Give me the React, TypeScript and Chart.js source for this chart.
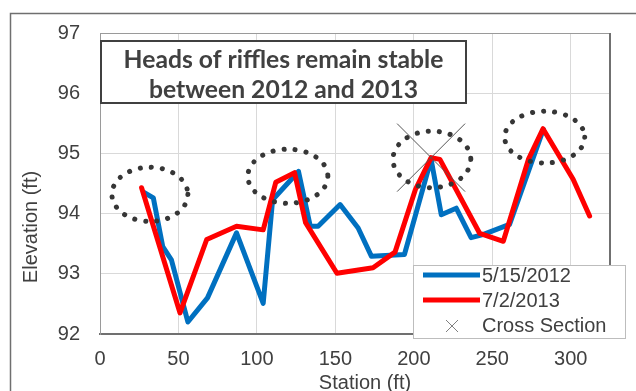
import React, { useEffect, useRef } from 'react';
import { Chart, registerables } from 'chart.js';

Chart.register(...registerables);

// ---- data ----
const blueStation = [28, 34, 40, 45.5, 56, 68.5, 87, 104, 110, 126.5, 134, 139, 153, 164.5, 173, 194, 211, 217.5, 227, 236.5, 244, 261, 282.5];
const blueElev = [94.35, 94.26, 93.45, 93.23, 92.2, 92.6, 93.68, 92.51, 94.23, 94.7, 93.79, 93.79, 94.15, 93.76, 93.29, 93.32, 94.9, 93.98, 94.09, 93.6, 93.65, 93.82, 95.4];
const redStation = [26.5, 51, 68, 87, 104, 112, 124, 131, 151, 174, 188, 201, 211, 216.6, 242, 257, 273, 282.3, 301.5, 312];
const redElev = [94.43, 92.35, 93.57, 93.79, 93.73, 94.52, 94.68, 93.85, 93.01, 93.1, 93.36, 94.4, 94.93, 94.9, 93.67, 93.54, 94.9, 95.41, 94.57, 93.96];
const crossStation = [211];
const crossElev = [94.93];
const seriesLabels = ['5/15/2012', '7/2/2013', 'Cross Section'];
const xTickValues = [0, 50, 100, 150, 200, 250, 300];
const yTickValues = [92, 93, 94, 95, 96, 97];
const ellipseStation = [31.8, 119.7, 211.5, 283.4];
const ellipseElev = [94.32, 94.62, 94.9, 95.27];
const ellipseRx = [24.2, 25.5, 24.8, 25.5];
const ellipseRy = [0.45, 0.45, 0.47, 0.43];
const titleLines = ['Heads of riffles remain stable', 'between 2012 and 2013'];
const xAxisTitle = 'Station (ft)';
const yAxisTitle = 'Elevation (ft)';

const BLUE = '#0070c0';
const RED = '#ff0000';
const TEXT = '#404040';
const FONT = '"Liberation Sans", Arial, sans-serif';

const toPts = (xs: number[], ys: number[]) => xs.map((x, i) => ({ x, y: ys[i] }));

const decorPlugin = {
  id: 'decor',
  beforeDraw(chart: any) {
    const { ctx, width, height } = chart;
    ctx.save();
    ctx.fillStyle = '#ffffff';
    ctx.fillRect(0, 0, width, height);
    ctx.strokeStyle = '#6f6f6f';
    ctx.lineWidth = 1.5;
    ctx.beginPath();
    ctx.moveTo(10.5, height + 2);
    ctx.lineTo(10.5, 13.5);
    ctx.lineTo(width + 2, 13.5);
    ctx.stroke();
    ctx.restore();
  },
  afterDatasetsDraw(chart: any) {
    const { ctx, scales } = chart;
    const xs = scales.x;
    const ys = scales.y;
    ctx.save();
    // cross-section markers (large thin X)
    ctx.strokeStyle = '#555555';
    ctx.lineWidth = 1;
    for (let i = 0; i < crossStation.length; i++) {
      const cx = xs.getPixelForValue(crossStation[i]);
      const cy = ys.getPixelForValue(crossElev[i]);
      const h = 34;
      ctx.beginPath();
      ctx.moveTo(cx - h, cy - h);
      ctx.lineTo(cx + h, cy + h);
      ctx.moveTo(cx + h, cy - h);
      ctx.lineTo(cx - h, cy + h);
      ctx.stroke();
    }
    // dotted ellipses
    ctx.strokeStyle = '#363636';
    ctx.lineWidth = 5;
    ctx.lineCap = 'round';
    ctx.setLineDash([0.1, 11]);
    for (let i = 0; i < ellipseStation.length; i++) {
      const cx = xs.getPixelForValue(ellipseStation[i]);
      const cy = ys.getPixelForValue(ellipseElev[i]);
      const rx = xs.getPixelForValue(ellipseStation[i] + ellipseRx[i]) - cx;
      const ry = cy - ys.getPixelForValue(ellipseElev[i] + ellipseRy[i]);
      ctx.beginPath();
      ctx.ellipse(cx, cy, rx, ry, 0, 0, Math.PI * 2);
      ctx.stroke();
    }
    ctx.restore();
  },
  afterDraw(chart: any) {
    const { ctx, chartArea } = chart;
    ctx.save();
    // plot top/right border
    ctx.strokeStyle = '#9a9a9a';
    ctx.lineWidth = 1;
    ctx.beginPath();
    ctx.moveTo(chartArea.left, chartArea.top + 0.5);
    ctx.lineTo(chartArea.right, chartArea.top + 0.5);
    ctx.stroke();
    ctx.strokeStyle = '#707070';
    ctx.lineWidth = 2;
    ctx.beginPath();
    ctx.moveTo(chartArea.right, chartArea.top);
    ctx.lineTo(chartArea.right, chartArea.bottom);
    ctx.stroke();

    // title box
    ctx.fillStyle = '#ffffff';
    ctx.fillRect(101, 41, 365, 62);
    ctx.strokeStyle = '#404040';
    ctx.lineWidth = 2;
    ctx.strokeRect(101, 41, 365, 62);
    ctx.fillStyle = TEXT;
    ctx.textAlign = 'center';
    ctx.textBaseline = 'middle';
    let fs = 20;
    ctx.font = `bold ${fs}px Lato, "Open Sans", sans-serif`;
    const w = ctx.measureText(titleLines[0]).width;
    fs = fs * 320 / w;
    ctx.font = `bold ${fs.toFixed(2)}px Lato, "Open Sans", sans-serif`;
    ctx.fillText(titleLines[0], 283.5, 60);
    ctx.fillText(titleLines[1], 283.5, 90);

    // axis titles
    ctx.font = `20px ${FONT}`;
    ctx.fillText(xAxisTitle, 365, 383);
    ctx.save();
    ctx.translate(31, 227);
    ctx.rotate(-Math.PI / 2);
    ctx.fillText(yAxisTitle, 0, 0);
    ctx.restore();

    // legend
    ctx.fillStyle = '#ffffff';
    ctx.fillRect(413, 265, 212, 73);
    ctx.strokeStyle = '#bdbdbd';
    ctx.lineWidth = 1;
    ctx.strokeRect(413.5, 265.5, 212, 73);
    ctx.lineWidth = 5;
    ctx.lineCap = 'butt';
    ctx.strokeStyle = BLUE;
    ctx.beginPath();
    ctx.moveTo(423, 275);
    ctx.lineTo(480, 275);
    ctx.stroke();
    ctx.strokeStyle = RED;
    ctx.beginPath();
    ctx.moveTo(423, 300);
    ctx.lineTo(480, 300);
    ctx.stroke();
    ctx.strokeStyle = '#808080';
    ctx.lineWidth = 1;
    ctx.beginPath();
    ctx.moveTo(446, 320);
    ctx.lineTo(458, 332);
    ctx.moveTo(458, 320);
    ctx.lineTo(446, 332);
    ctx.stroke();
    ctx.fillStyle = TEXT;
    ctx.textAlign = 'left';
    ctx.font = `20px ${FONT}`;
    ctx.fillText(seriesLabels[0], 482, 276);
    ctx.fillText(seriesLabels[1], 482, 301);
    ctx.fillText(seriesLabels[2], 482, 326);
    ctx.restore();
  },
};

export default function App() {
  const ref = useRef<HTMLCanvasElement | null>(null);
  useEffect(() => {
    if (!ref.current) return;
    const chart = new Chart(ref.current, {
      type: 'scatter',
      data: {
        datasets: [
          {
            label: seriesLabels[1],
            data: toPts(redStation, redElev),
            borderColor: RED,
            backgroundColor: RED,
            borderWidth: 5,
            pointRadius: 0,
            showLine: true,
            borderJoinStyle: 'round',
            borderCapStyle: 'round',
            order: 0,
          },
          {
            label: seriesLabels[0],
            data: toPts(blueStation, blueElev),
            borderColor: BLUE,
            backgroundColor: BLUE,
            borderWidth: 5,
            pointRadius: 0,
            showLine: true,
            borderJoinStyle: 'round',
            borderCapStyle: 'round',
            order: 1,
          },
        ] as any,
      },
      options: {
        responsive: false,
        animation: false,
        devicePixelRatio: 1,
        layout: { padding: { left: 0, top: 33, right: 26, bottom: 0 } },
        plugins: { legend: { display: false }, tooltip: { enabled: false } },
        scales: {
          x: {
            type: 'linear',
            min: 0,
            max: 325,
            bounds: 'data',
            afterBuildTicks: (s: any) => { s.ticks = xTickValues.map((v) => ({ value: v })); },
            afterFit: (s: any) => { s.height = 57; },
            ticks: { color: TEXT, font: { family: FONT, size: 20 }, padding: 13 },
            grid: { color: '#d9d9d9', lineWidth: 1, drawTicks: false },
            border: { color: '#707070', width: 2 },
          },
          y: {
            type: 'linear',
            min: 92,
            max: 97,
            bounds: 'data',
            afterBuildTicks: (s: any) => { s.ticks = yTickValues.map((v) => ({ value: v })); },
            afterFit: (s: any) => { s.width = 100; },
            ticks: { color: TEXT, font: { family: FONT, size: 20 }, padding: 20 },
            grid: { color: '#d9d9d9', lineWidth: 1, drawTicks: false },
            border: { color: '#9a9a9a', width: 1 },
          },
        },
      } as any,
      plugins: [decorPlugin],
    });
    return () => chart.destroy();
  }, []);
  return (
    <div style={{ position: 'absolute', left: 0, top: 0, width: 636, height: 391 }}>
      <canvas ref={ref} width={636} height={391} style={{ display: 'block', width: 636, height: 391 }} />
    </div>
  );
}
